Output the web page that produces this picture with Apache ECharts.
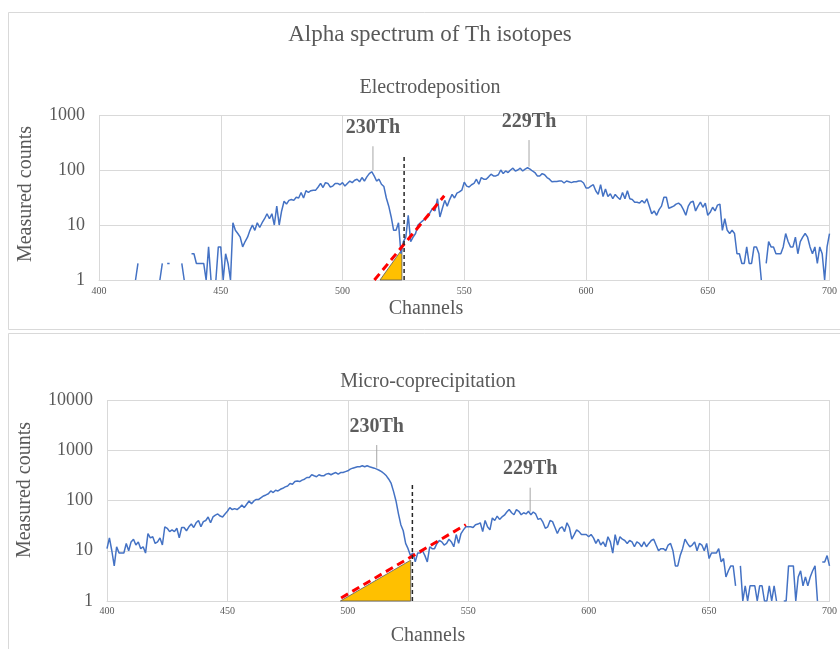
<!DOCTYPE html>
<html>
<head>
<meta charset="utf-8">
<script src="https://cdn.jsdelivr.net/npm/echarts@6.0.0/dist/echarts.min.js"></script>
<style>
  html, body { margin: 0; padding: 0; background: #fff; }
  #chart { width: 840px; height: 649px; }
</style>
</head>
<body>
<div id="chart"></div>
<script>
// counts per channel, starting at channel 400 (null = no counts, not drawn on log axis)
const firstChannel = 400;

const electroCounts = [
  null, null, null, null, null, null, null, null, null, null,
  null, null, null, null, null, 1, 2, null, null, null,
  null, null, null, null, null, 1, 2, null, 2, 2,
  null, null, null, null, 2, 1, null, null, 3, 3,
  2, 2, 2, 2, 1, 4, 1, null, 1, 4,
  4, 1, 3, 2, 1, 11, 8, 7, 6, 4,
  5, 6, 8, 10, 8, 11, 9, 11, 13, 16,
  13, 16, 10, 22, 10, 18, 27, 24, 28, 29,
  28, 32, 31, 39, 31, 42, 39, 42, 43, 43,
  49, 57, 48, 59, 57, 49, 51, 57, 57, 54,
  59, 51, 57, 63, 59, 65, 68, 61, 73, 63,
  75, 86, 93, 78, 63, 68, 55, 50, 31, 22,
  14, 8, 8, 11, 3, 5, 6, 15, 5, 6,
  7, 10, 11, 12, 13, 14, 17, 20, 18, 30,
  14, 20, 28, 22, 29, 36, 31, 38, 40, 43,
  60, 51, 49, 54, 57, 68, 55, 73, 68, 68,
  75, 84, 78, 78, 82, 100, 86, 96, 90, 100,
  108, 96, 100, 108, 96, 104, 110, 104, 96, 90,
  78, 78, 86, 82, 73, 68, 61, 62, 62, 63,
  63, 58, 63, 61, 59, 61, 61, 63, 63, 58,
  47, 47, 51, 54, 42, 36, 54, 33, 45, 33,
  37, 30, 36, 32, 29, 39, 30, 42, 30, 29,
  26, 26, 25, 28, 25, 30, 22, 16, 18, 15,
  19, 22, 32, 32, 20, 21, 22, 24, 25, 23,
  19, 15, 22, 26, 27, 18, 22, 26, 21, 25,
  15, 17, 21, 18, 23, 24, 8, 13, 8, 7,
  8, 7, 3, 3, 2, 2, 4, 2, 2, 4,
  4, 3, 1, null, 2, 5, 4, 4, 3, 3,
  3, 4, 7, 5, 4, 4, 6, 3, 5, 6,
  7, 6, 4, 3, 4, 2, 4, 3, 1, 4,
  7
];

const microCounts = [
  11, 18, 10, 5, 12, 9, 9, 9, 14, 10,
  15, 17, 13, 15, 11, 12, 9, 22, 18, 19,
  14, 15, 18, 13, 30, 28, 24, 26, 24, 28,
  18, 29, 29, 25, 30, 34, 29, 36, 40, 30,
  38, 40, 47, 36, 47, 51, 54, 49, 47, 54,
  61, 72, 66, 69, 66, 72, 81, 72, 84, 98,
  86, 98, 105, 105, 114, 123, 129, 136, 155, 144,
  160, 155, 167, 175, 187, 195, 218, 210, 238, 245,
  238, 254, 265, 287, 287, 325, 310, 297, 325, 310,
  310, 335, 345, 325, 345, 360, 335, 360, 360, 376,
  390, 420, 440, 455, 470, 470, 490, 470, 490, 470,
  455, 440, 420, 400, 376, 345, 310, 265, 218, 150,
  98, 55, 33, 25, 14, 11, 8, 9, 6, 9,
  9, 10, 8, 6, 12, 11, 11, 14, 16, 15,
  13, 14, 17, 15, 12, 21, 14, 22, 26, 30,
  30, 30, 29, 33, 34, 36, 24, 40, 30, 26,
  45, 40, 49, 42, 47, 51, 59, 66, 57, 52,
  66, 61, 52, 57, 54, 61, 52, 59, 54, 42,
  44, 37, 28, 30, 40, 38, 29, 22, 28, 30,
  24, 36, 29, 17, 21, 26, 24, 21, 21, 21,
  19, 21, 18, 14, 17, 13, 15, 12, 19, 15,
  9, 21, 13, 19, 17, 16, 14, 16, 15, 12,
  15, 14, 12, 15, 12, 14, 16, 17, 13, 10,
  11, 11, 10, 13, 14, 10, 5, 5, 8, 11,
  17, 14, 12, 13, 15, 10, 14, 13, 10, 14,
  7, 9, 9, 9, 11, 6, 7, 3, 4, 5,
  5, 2, null, 5, 1, 2, 1, 2, 2, 2,
  1, 2, 2, 1, 1, 2, 1, 2, 1, null,
  null, 1, 1, 5, 5, 5, 1, 3, 4, 2,
  3, 2, 3, 4, 5, 1, null, 6, 6, 8,
  5
];

// peak labels and their leader lines (channel, leader top, leader foot)
const peakNames = ['230Th', '229Th'];
const electroPeakChannels = [512.5, 576.6];
const electroLeaderTop = [270, 350];
const electroLeaderFoot = [100, 115];
const microPeakChannels = [512, 575.7];
const microLeaderTop = [1270, 180];
const microLeaderFoot = [450, 60];

// tail extrapolation (red dashed), cut channel (black dashed), shaded triangle [from, to, height]
const electroTail = [[513.1, 1], [541.8, 34]];
const microTail = [[497.2, 1.15], [549, 33]];
const electroCut = [525.3, 175];
const microCut = [526.8, 220];
const electroTriangle = [515.4, 524.4, 3.6];
const microTriangle = [496.9, 526.1, 6.5];

const serif = '"Liberation Serif", "Times New Roman", serif';
const textGrey = '#595959';
const gridGrey = '#d9d9d9';

const toPairs = (counts) => counts.map((v, i) => [firstChannel + i, v === null ? '-' : v]);

const xAxisFor = (gridIndex, margin) => ({
  gridIndex,
  type: 'value',
  min: 400,
  max: 700,
  interval: 50,
  axisLine: { show: true, lineStyle: { color: gridGrey } },
  axisTick: { show: false },
  axisLabel: { fontFamily: serif, fontSize: 10, color: textGrey, margin },
  splitLine: { show: true, lineStyle: { color: gridGrey } },
});

const yAxisFor = (gridIndex, max) => ({
  gridIndex,
  type: 'log',
  logBase: 10,
  min: 1,
  max,
  axisLine: { show: false },
  axisTick: { show: false },
  axisLabel: {
    fontFamily: serif,
    fontSize: 18,
    color: textGrey,
    margin: 14,
    formatter: (v) => String(Math.round(v)),
  },
  splitLine: { show: true, lineStyle: { color: gridGrey } },
});

const panelSeries = (idx, counts, tri, tail, cut, peakCh, leadTop, leadFoot) => {
  const leaders = [];
  peakCh.forEach((ch, i) => {
    if (i > 0) leaders.push([ch - 1, '-']);
    leaders.push([ch, leadTop[i]]);
    leaders.push([ch, leadFoot[i]]);
  });
  return [
    {
      type: 'custom',
      xAxisIndex: idx,
      yAxisIndex: idx,
      silent: true,
      z: 1,
      encode: { x: [0, 1], y: 2 },
      data: [tri],
      renderItem: (params, api) => {
        const a = api.coord([api.value(0), 1]);
        const b = api.coord([api.value(1), 1]);
        const c = api.coord([api.value(1), api.value(2)]);
        return {
          type: 'polygon',
          shape: { points: [a, b, c] },
          style: { fill: '#FFC000', stroke: '#595959', lineWidth: 0.8 },
        };
      },
    },
    {
      type: 'line',
      xAxisIndex: idx,
      yAxisIndex: idx,
      data: toPairs(counts),
      showSymbol: false,
      connectNulls: false,
      z: 2,
      lineStyle: { color: '#4472C4', width: 1.5 },
    },
    {
      type: 'line',
      xAxisIndex: idx,
      yAxisIndex: idx,
      data: tail,
      showSymbol: false,
      z: 3,
      lineStyle: { color: '#FF0000', width: 3, type: [8, 5] },
    },
    {
      type: 'line',
      xAxisIndex: idx,
      yAxisIndex: idx,
      data: [[cut[0], 1], cut],
      showSymbol: false,
      z: 4,
      lineStyle: { color: '#262626', width: 1.5, type: [4, 3] },
    },
    {
      type: 'line',
      xAxisIndex: idx,
      yAxisIndex: idx,
      data: leaders,
      showSymbol: false,
      connectNulls: false,
      z: 3,
      lineStyle: { color: '#a6a6a6', width: 1 },
    },
    {
      type: 'scatter',
      xAxisIndex: idx,
      yAxisIndex: idx,
      symbolSize: 1,
      itemStyle: { color: 'rgba(0,0,0,0)' },
      z: 5,
      data: peakCh.map((ch, i) => ({ name: peakNames[i], value: [ch, leadTop[i]] })),
      label: {
        show: true,
        position: 'top',
        distance: 8,
        formatter: '{b}',
        fontFamily: serif,
        fontWeight: 'bold',
        fontSize: 20,
        color: '#333333',
      },
    },
  ];
};

const text = (str, x, y, size, extra) => Object.assign({
  type: 'text',
  x,
  y,
  style: {
    text: str,
    fontFamily: serif,
    fontSize: size,
    fill: textGrey,
    textAlign: 'center',
    textVerticalAlign: 'middle',
  },
}, extra || {});

const chart = echarts.init(document.getElementById('chart'));
chart.setOption({
  animation: false,
  backgroundColor: '#fff',
  grid: [
    { left: 99, top: 115, width: 733, height: 165 },
    { left: 107, top: 400, width: 727, height: 201 },
  ],
  xAxis: [xAxisFor(0, 6), xAxisFor(1, 5)],
  yAxis: [yAxisFor(0, 1000), yAxisFor(1, 10000)],
  graphic: [
    { type: 'rect', shape: { x: 8.5, y: 12.5, width: 840, height: 317 }, style: { fill: null, stroke: gridGrey, lineWidth: 1 }, z: -1 },
    { type: 'rect', shape: { x: 8.5, y: 333.5, width: 840, height: 320 }, style: { fill: null, stroke: gridGrey, lineWidth: 1 }, z: -1 },
    text('Alpha spectrum of Th isotopes', 430, 35, 23),
    text('Electrodeposition', 430, 88, 20),
    text('Channels', 426, 309, 20),
    text('Measured counts', 26, 194, 20, { rotation: Math.PI / 2 }),
    text('Micro-coprecipitation', 428, 382, 20),
    text('Channels', 428, 636, 20),
    text('Measured counts', 25, 490, 20, { rotation: Math.PI / 2 }),
  ],
  series: [
    ...panelSeries(0, electroCounts, electroTriangle, electroTail, electroCut,
      electroPeakChannels, electroLeaderTop, electroLeaderFoot),
    ...panelSeries(1, microCounts, microTriangle, microTail, microCut,
      microPeakChannels, microLeaderTop, microLeaderFoot),
  ],
});
</script>
</body>
</html>
